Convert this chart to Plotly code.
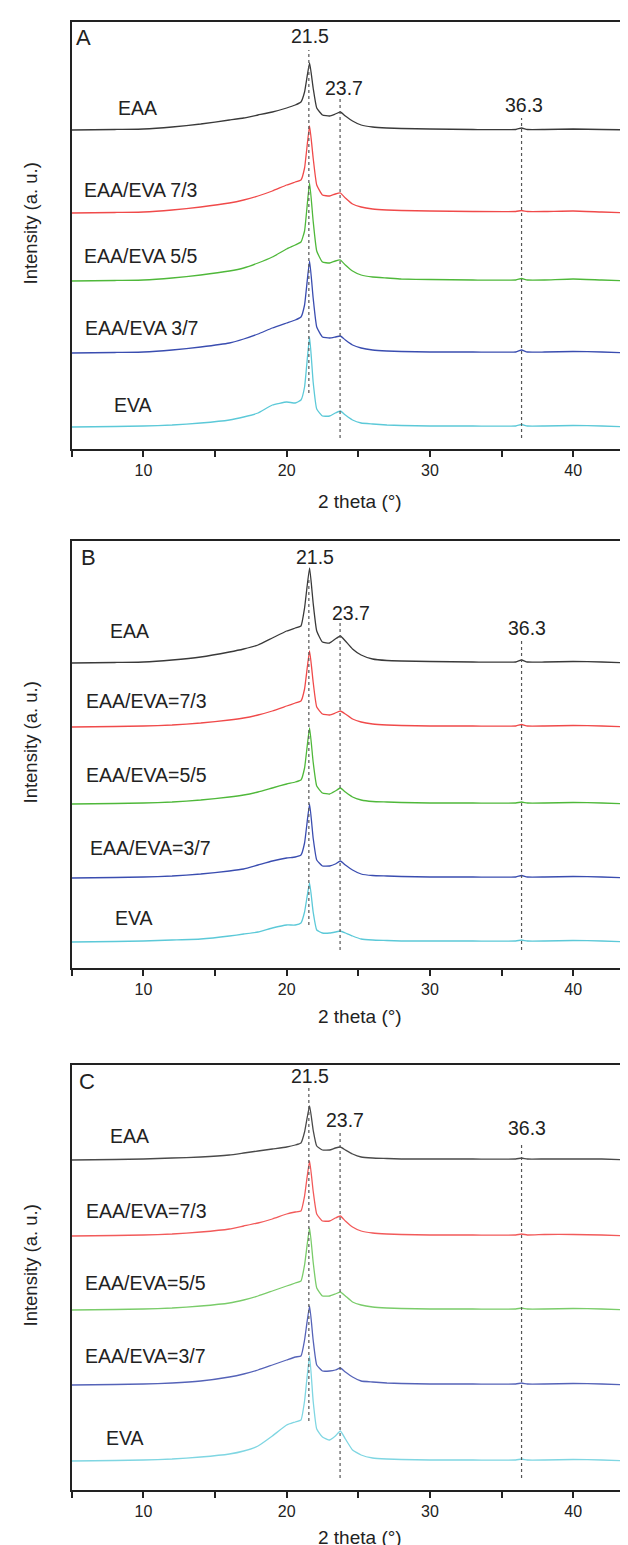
import plotly.graph_objects as go

# ---------------- data ----------------
# 2-theta sample positions
X = [5, 8, 10, 12, 14, 16, 17, 18, 19, 20, 20.6, 21.0, 21.25, 21.6, 21.85, 22.1,
     22.5, 23.0, 23.4, 23.75, 24.1, 24.6, 25.2, 26, 27, 28, 30, 33, 36.0, 36.4,
     36.8, 38, 40, 42, 44.4]

# Panel A intensities (a.u., above each curve's own baseline)
A_EAA = [0, 0.5, 1, 3, 6, 10, 12, 15, 18, 22, 25, 28, 38, 67, 42, 22,
         15, 14, 16, 18, 14, 9, 5, 3, 2, 1.5, 1, 0.5, 0.5, 2, 0.5, 0.5, 1, 0.5, 0]
A_73 = [0, 0.5, 1, 3, 6, 10, 13, 17, 22, 28, 31, 33, 45, 87, 55, 28,
        18, 17, 19, 20, 15, 9, 6, 4, 3, 2.5, 2, 1.5, 1.5, 2.5, 1.5, 1.5, 2, 1, 0]
A_55 = [0, 0.5, 1, 3, 6, 10, 13, 18, 24, 32, 36, 39, 50, 98, 60, 30,
        19, 18, 20, 21, 16, 10, 6, 4, 3, 2, 1.5, 1, 1, 2.5, 1, 1, 2, 1, 0]
A_37 = [0, 0.5, 1, 3, 6, 10, 14, 19, 25, 30, 33, 36, 48, 92, 55, 26,
        16, 15, 16, 17, 13, 8, 5, 3, 2, 1.5, 1, 1, 1, 3, 1, 1, 1.5, 1, 0]
A_EVA = [0, 0.5, 1, 2, 4, 7, 10, 14, 22, 25, 24, 27, 40, 90, 45, 18,
         11, 11, 14, 16, 12, 7, 4, 3, 2, 1.5, 1, 1, 1, 2.5, 1, 1, 1.5, 1, 0]

# Panel B intensities
B_EAA = [0, 0.5, 1, 3, 6, 11, 14, 18, 25, 32, 35, 37, 55, 95, 60, 32,
         21, 20, 24, 27, 22, 14, 8, 4, 2.5, 2, 1.5, 1, 1, 3, 1, 1, 1.5, 1, 0]
B_73 = [0, 0.5, 1, 2, 4, 7, 9, 12, 16, 21, 24, 26, 38, 76, 45, 20,
        13, 12, 14, 16, 13, 8, 5, 3, 2, 1.5, 1, 1, 1, 2.5, 1, 1, 1.5, 1, 0]
B_55 = [0, 0.5, 1, 2, 4, 7, 9, 12, 16, 20, 22, 24, 36, 76, 42, 18,
        11, 10, 13, 16, 12, 7, 4, 2.5, 2, 1.5, 1, 1, 1, 2, 1, 1, 1.5, 1, 0]
B_37 = [0, 0.5, 1, 2, 4, 7, 9, 13, 17, 20, 21, 23, 35, 74, 40, 18,
        12, 12, 14, 17, 13, 8, 4, 2.5, 2, 1.5, 1, 1, 1, 2.5, 1, 1, 1.5, 1, 0]
B_EVA = [0, 0.5, 1, 2, 3, 6, 8, 10, 14, 17, 17, 19, 30, 59, 30, 12,
         9, 9, 10, 11, 9, 6, 3, 2, 1.5, 1, 1, 1, 1, 2, 1, 1, 1.5, 1, 0]

# Panel C intensities
C_EAA = [0, 0.5, 1, 2, 3, 5, 7, 9, 11, 13, 15, 17, 28, 54, 30, 14,
         10, 10, 12, 13, 10, 6, 3, 2, 1.5, 1, 1, 1, 1, 2, 1, 1, 1, 1, 0]
C_73 = [0, 0.5, 1, 2, 4, 7, 10, 13, 17, 22, 24, 25, 40, 75, 45, 22,
        15, 15, 18, 20, 15, 9, 5, 3, 2, 1.5, 1, 1, 1, 2, 1, 1.5, 1.5, 1, 0]
C_55 = [0, 0.5, 1, 2, 4, 7, 10, 14, 19, 24, 27, 29, 45, 82, 48, 22,
        14, 14, 16, 18, 14, 8, 5, 3, 2, 1.5, 1, 1, 1, 2, 1, 1, 1.5, 1, 0]
C_37 = [0, 0.5, 1, 2, 4, 8, 11, 15, 20, 25, 28, 29, 45, 79, 45, 20,
        14, 14, 15, 17, 13, 8, 4, 3, 2, 1.5, 1, 1, 1, 2, 1, 1, 1.5, 1, 0]
C_EVA = [0, 0.5, 1, 2, 4, 7, 10, 15, 25, 36, 39, 41, 60, 105, 60, 32,
         24, 21, 25, 30, 22, 11, 6, 3, 2, 1.5, 1, 1, 1, 2, 1, 1, 1.5, 1, 0]

# vertical stacking offsets of the curves (EAA, 7/3, 5/5, 3/7, EVA)
OFFSETS_A = [319, 236, 168, 96, 22]
OFFSETS_B = [305, 241, 164, 90, 26]
OFFSETS_C = [330, 254, 180, 105, 29]

NAMES_A = ["EAA", "EAA/EVA 7/3", "EAA/EVA 5/5", "EAA/EVA 3/7", "EVA"]
NAMES_BC = ["EAA", "EAA/EVA=7/3", "EAA/EVA=5/5", "EAA/EVA=3/7", "EVA"]

PEAK_TEXT = ["21.5", "23.7", "36.3"]
PEAK_LINES = [21.55, 23.73, 36.4]

TICK_VALS = [5, 10, 15, 20, 25, 30, 35, 40]
TICK_TEXT = ["", "10", "", "20", "", "30", "", "40"]

X_RANGE = [5, 44.39]

# ---------------- styling / layout ----------------
W, H = 628, 1545
FONT = "Liberation Sans, Arial, sans-serif"
TXT = "#222222"
COLORS_AB = ["#3a3a3a", "#f04a4a", "#4fb83a", "#3a4db0", "#5cc9d8"]
COLORS_C = ["#4a4a4a", "#f25a5a", "#7acc6a", "#5563b8", "#7fd6e2"]

LEFT_PX = 63.8

def py(p):
    return 1 - p / H

panels = [
    dict(letter="A", top=14, axis=441, title_y=493, curves=[A_EAA, A_73, A_55, A_37, A_EVA],
         offs=OFFSETS_A, names=NAMES_A, colors=COLORS_AB,
         name_pos=[(8.1, 100), (5.7, 182), (5.7, 248), (5.8, 320), (7.8, 397)],
         peak_lbl=[(21.63, 28), (24.0, 80), (36.6, 97)],
         line_span=[(42, 385), (90, 430), (110, 430)],
         letter_pos=(66, 29)),
    dict(letter="B", top=533, axis=960, title_y=1008, curves=[B_EAA, B_73, B_55, B_37, B_EVA],
         offs=OFFSETS_B, names=NAMES_BC, colors=COLORS_AB,
         name_pos=[(7.5, 623), (5.85, 693), (5.85, 767), (6.1, 840), (7.9, 910)],
         peak_lbl=[(22.0, 549), (24.5, 605), (36.8, 620)],
         line_span=[(570, 917), (613, 942), (630, 942)],
         letter_pos=(71, 549)),
    dict(letter="C", top=1057, axis=1482, title_y=1529, curves=[C_EAA, C_73, C_55, C_37, C_EVA],
         offs=OFFSETS_C, names=NAMES_BC, colors=COLORS_C,
         name_pos=[(7.5, 1128), (5.85, 1203), (5.8, 1275), (5.8, 1348), (7.25, 1430)],
         peak_lbl=[(21.6, 1068), (24.1, 1112), (36.8, 1120)],
         line_span=[(1080, 1413), (1125, 1470), (1137, 1470)],
         letter_pos=(69, 1073)),
]

fig = go.Figure()
annotations = []
layout = {}

for i, p in enumerate(panels):
    sfx = "" if i == 0 else str(i + 1)
    xa, ya = "x" + sfx, "y" + sfx
    axis_px, top_px = p["axis"], p["top"]
    yr = [0, axis_px - top_px]

    for vals, off, col in zip(p["curves"], p["offs"], p["colors"]):
        fig.add_trace(go.Scatter(
            x=X, y=[v + off for v in vals], mode="lines",
            line=dict(color=col, width=1.3, shape="spline", smoothing=0.4),
            xaxis=xa, yaxis=ya, hoverinfo="skip", showlegend=False))

    for xv, (y0, y1) in zip(PEAK_LINES, p["line_span"]):
        fig.add_trace(go.Scatter(
            x=[xv, xv], y=[axis_px - y1, axis_px - y0], mode="lines",
            line=dict(color="#555555", width=1.2, dash="dot"),
            xaxis=xa, yaxis=ya, hoverinfo="skip", showlegend=False))

    for name, (nx, npx) in zip(p["names"], p["name_pos"]):
        annotations.append(dict(
            x=nx, y=axis_px - npx, xref=xa, yref=ya, text=name, showarrow=False,
            xanchor="left", yanchor="middle",
            font=dict(family=FONT, size=19.5, color=TXT)))

    for txt, (lx, lpx) in zip(PEAK_TEXT, p["peak_lbl"]):
        annotations.append(dict(
            x=lx, y=axis_px - lpx, xref=xa, yref=ya, text=txt, showarrow=False,
            xanchor="center", yanchor="middle",
            font=dict(family=FONT, size=19.5, color=TXT)))

    annotations.append(dict(
        x=p["letter_pos"][0] / W, y=py(p["letter_pos"][1]), xref="paper", yref="paper",
        text=p["letter"], showarrow=False, xanchor="left", yanchor="middle",
        font=dict(family=FONT, size=22, color=TXT)))

    annotations.append(dict(
        x=352 / W, y=py(p["title_y"]),
        xref="paper", yref="paper", text="2 theta (°)", showarrow=False,
        xanchor="center", yanchor="middle",
        font=dict(family=FONT, size=19, color=TXT)))

    annotations.append(dict(
        x=22 / W, y=py((top_px + axis_px) / 2 - 12), xref="paper", yref="paper",
        text="Intensity (a. u.)", showarrow=False, textangle=-90,
        xanchor="center", yanchor="middle",
        font=dict(family=FONT, size=18.5, color=TXT)))

    layout["xaxis" + sfx] = dict(
        domain=[LEFT_PX / W, 1], range=X_RANGE, anchor=ya,
        showline=True, linecolor="#222222", linewidth=2, mirror=True,
        ticks="outside", ticklen=6, tickwidth=1.6, tickcolor="#222222",
        tickmode="array", tickvals=TICK_VALS, ticktext=TICK_TEXT,
        tickfont=dict(family=FONT, size=16, color=TXT),
        showgrid=False, zeroline=False, fixedrange=True)
    layout["yaxis" + sfx] = dict(
        domain=[py(axis_px), py(top_px)], range=yr, anchor=xa,
        showline=True, linecolor="#222222", linewidth=2, mirror=False,
        ticks="", showticklabels=False, showgrid=False, zeroline=False,
        fixedrange=True)

fig.update_layout(
    width=W, height=H,
    margin=dict(l=0, r=0, t=0, b=0),
    paper_bgcolor="white", plot_bgcolor="white",
    showlegend=False,
    annotations=annotations,
    **layout)

fig.write_html("out.html")
